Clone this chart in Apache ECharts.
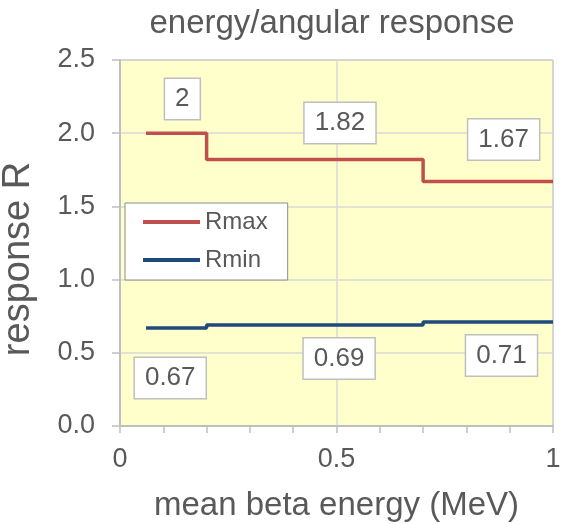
<!DOCTYPE html>
<html>
<head>
<meta charset="utf-8">
<script src="https://cdn.jsdelivr.net/npm/echarts@6/dist/echarts.min.js"></script>
<style>html,body{margin:0;padding:0;background:#fff}#c{width:562px;height:524px}</style>
</head>
<body>
<div id="c"></div>
<script>
// ---- data ----
const energyX = [0.06, 0.2, 0.7, 1.0];          // step start points (MeV)
const rmaxValues = [2, 1.82, 1.67, 1.67];
const rminValues = [0.67, 0.69, 0.71, 0.71];
const xTickLabels = ['0', '0.5', '1'];
const yTickLabels = ['0.0', '0.5', '1.0', '1.5', '2.0', '2.5'];

const FONT = '"Liberation Sans", Arial, sans-serif';
const GREY = '#595959';

const chart = echarts.init(document.getElementById('c'), null, {renderer: 'canvas'});

function labelStyle() {
  return {
    show: true, position: 'inside', formatter: '{c}',
    fontFamily: FONT, fontSize: 26, color: GREY,
    backgroundColor: '#ffffff', borderColor: '#bfbfbf', borderWidth: 1.5,
    padding: [8, 10, 6, 10]
  };
}
// annotation placement (in data coordinates) for each step's value box
const rmaxLabelAt = [[0.144, 2.234], [0.508, 2.07], [0.886, 1.957]];
const rminLabelAt = [[0.116, 0.328], [0.506, 0.461], [0.881, 0.482]];

function marks(values, at) {
  return at.map((c, i) => ({coord: c, value: values[i]}));
}

const option = {
  animation: false,
  backgroundColor: '#ffffff',
  title: {
    text: 'energy/angular response',
    left: 327, top: 2, textAlign: 'center',
    textStyle: {fontFamily: FONT, fontSize: 33, fontWeight: 'normal', color: GREY}
  },
  legend: {
    orient: 'vertical', left: 125, top: 203,
    backgroundColor: '#ffffff', borderColor: '#8c8c8c', borderWidth: 1,
    padding: [7, 20, 8, 18], itemGap: 14,
    itemWidth: 57, itemHeight: 4, icon: 'rect',
    textStyle: {fontFamily: FONT, fontSize: 24, color: GREY},
    data: ['Rmax', 'Rmin']
  },
  grid: {
    left: 120, right: 9, top: 60, bottom: 98,
    containLabel: false, outerBoundsMode: 'none',
    show: true, backgroundColor: '#FFFFCC', borderColor: '#9a9a9a', borderWidth: 1
  },
  xAxis: {
    type: 'value', min: 0, max: 1, interval: 0.5,
    name: 'mean beta energy (MeV)', nameLocation: 'middle', nameGap: 63,
    nameTextStyle: {fontFamily: FONT, fontSize: 33, color: GREY},
    axisLine: {show: true, lineStyle: {color: '#bfbfbf', width: 2}},
    axisTick: {show: true, length: 7, lineStyle: {color: '#bfbfbf', width: 1.5}},
    minorTick: {show: true, splitNumber: 5, length: 7, lineStyle: {color: '#bfbfbf', width: 1.5}},
    splitLine: {show: true, lineStyle: {color: '#d9d9d9', width: 1.5}},
    axisLabel: {
      margin: 20, fontFamily: FONT, fontSize: 27, color: GREY,
      formatter: v => xTickLabels[Math.round(v * 2)]
    }
  },
  yAxis: {
    type: 'value', min: 0, max: 2.5, interval: 0.5,
    name: 'response R', nameLocation: 'middle', nameGap: 82,
    nameTextStyle: {fontFamily: FONT, fontSize: 38, color: GREY, padding: [0, 32, 0, 0]},
    axisLine: {show: true, lineStyle: {color: '#bfbfbf', width: 2}},
    axisTick: {show: true, length: 8, lineStyle: {color: '#bfbfbf', width: 1.5}},
    splitLine: {show: true, lineStyle: {color: '#d9d9d9', width: 1.5}},
    axisLabel: {
      margin: 25, fontFamily: FONT, fontSize: 27, color: GREY,
      formatter: v => yTickLabels[Math.round(v * 2)]
    }
  },
  series: [
    {
      name: 'Rmax', type: 'line', step: 'end', symbol: 'none',
      data: energyX.map((x, i) => [x, rmaxValues[i]]),
      lineStyle: {color: '#C0504D', width: 3.5},
      itemStyle: {color: '#C0504D'},
      markPoint: {
        symbol: 'rect', symbolSize: 1, itemStyle: {color: 'rgba(0,0,0,0)'},
        label: labelStyle(),
        data: marks(rmaxValues, rmaxLabelAt)
      }
    },
    {
      name: 'Rmin', type: 'line', step: 'end', symbol: 'none',
      data: energyX.map((x, i) => [x, rminValues[i]]),
      lineStyle: {color: '#1F4A7C', width: 3.5},
      itemStyle: {color: '#1F4A7C'},
      markPoint: {
        symbol: 'rect', symbolSize: 1, itemStyle: {color: 'rgba(0,0,0,0)'},
        label: labelStyle(),
        data: marks(rminValues, rminLabelAt)
      }
    }
  ]
};
chart.setOption(option);
</script>
</body>
</html>
